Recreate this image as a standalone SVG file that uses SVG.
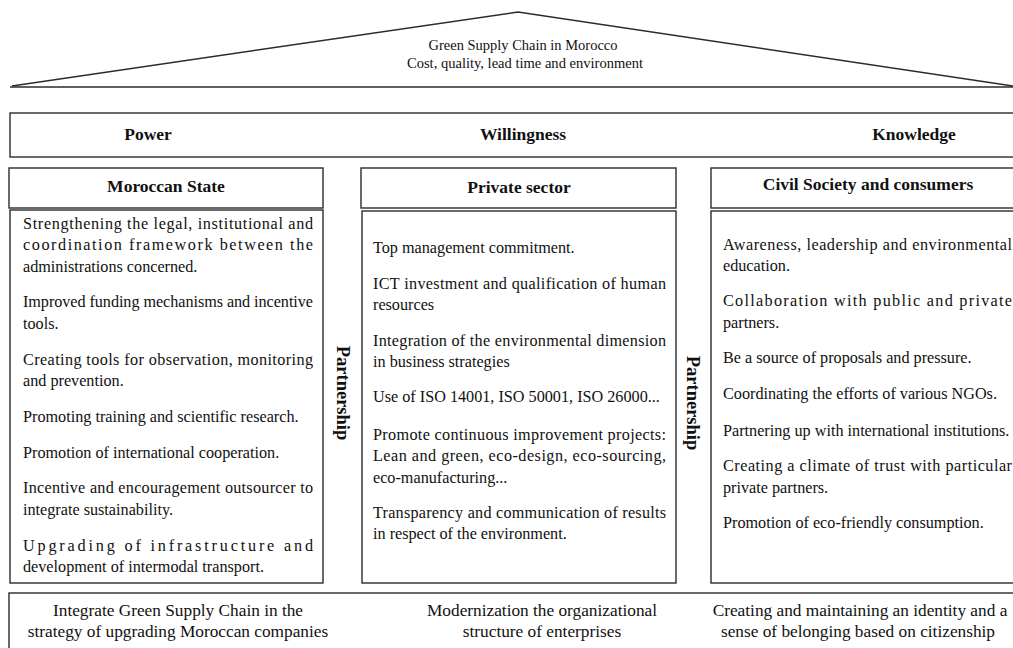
<svg xmlns="http://www.w3.org/2000/svg" width="1013" height="648" viewBox="0 0 1013 648">
<style>
.bx{fill:#fff;stroke:#2b2b2b;stroke-width:1.4}
.ln{fill:none;stroke:#2b2b2b;stroke-width:1.5}
.t{font-family:"Liberation Serif","Times New Roman",serif;font-size:16.2px;fill:#111}
.h{font-family:"Liberation Serif","Times New Roman",serif;font-size:17.5px;font-weight:bold;fill:#111;text-anchor:middle}
.r{font-family:"Liberation Serif","Times New Roman",serif;font-size:14.5px;fill:#111;text-anchor:middle}
.b{font-family:"Liberation Serif","Times New Roman",serif;font-size:17.3px;fill:#111;text-anchor:middle}
.p{font-family:"Liberation Serif","Times New Roman",serif;font-size:18.5px;font-weight:bold;fill:#111;text-anchor:middle}
</style>
<rect width="1013" height="648" fill="#fff"/>
<g id="roof">
<path class="ln" d="M12,86 L518,12 L1013,86"/>
<line class="ln" x1="10" y1="87" x2="1013" y2="87"/>
<text class="r" x="523" y="50" textLength="189" lengthAdjust="spacingAndGlyphs">Green Supply Chain in Morocco</text>
<text class="r" x="525" y="68" textLength="236" lengthAdjust="spacingAndGlyphs">Cost, quality, lead time and environment</text>
</g>
<g id="pillars-header">
<rect class="bx" x="10" y="113" width="1010" height="44"/>
<text class="h" x="148" y="140">Power</text>
<text class="h" x="523" y="140">Willingness</text>
<text class="h" x="914" y="140">Knowledge</text>
</g>
<g id="moroccan-state">
<rect class="bx" x="9" y="168" width="314" height="40"/>
<text class="h" x="166" y="192">Moroccan State</text>
<rect class="bx" x="10" y="210" width="313" height="373"/>
<text class="t" x="23" y="229" textLength="290" lengthAdjust="spacing">Strengthening the legal, institutional and</text>
<text class="t" x="23" y="250" textLength="290" lengthAdjust="spacing">coordination framework between the</text>
<text class="t" x="23" y="272">administrations concerned.</text>
<text class="t" x="23" y="307" textLength="290" lengthAdjust="spacing">Improved funding mechanisms and incentive</text>
<text class="t" x="23" y="329">tools.</text>
<text class="t" x="23" y="365" textLength="290" lengthAdjust="spacing">Creating tools for observation, monitoring</text>
<text class="t" x="23" y="386">and prevention.</text>
<text class="t" x="23" y="422">Promoting training and scientific research.</text>
<text class="t" x="23" y="458">Promotion of international cooperation.</text>
<text class="t" x="23" y="493" textLength="290" lengthAdjust="spacing">Incentive and encouragement outsourcer to</text>
<text class="t" x="23" y="515">integrate sustainability.</text>
<text class="t" x="23" y="551" textLength="290" lengthAdjust="spacing">Upgrading of infrastructure and</text>
<text class="t" x="23" y="572">development of intermodal transport.</text>
</g>
<g id="private-sector">
<rect class="bx" x="361" y="168" width="315" height="40"/>
<text class="h" x="519" y="193">Private sector</text>
<rect class="bx" x="362" y="211" width="314" height="372"/>
<text class="t" x="373" y="253">Top management commitment.</text>
<text class="t" x="373" y="289" textLength="293" lengthAdjust="spacing">ICT investment and qualification of human</text>
<text class="t" x="373" y="310">resources</text>
<text class="t" x="373" y="346" textLength="293" lengthAdjust="spacing">Integration of the environmental dimension</text>
<text class="t" x="373" y="367">in business strategies</text>
<text class="t" x="373" y="402">Use of ISO 14001, ISO 50001, ISO 26000...</text>
<text class="t" x="373" y="440" textLength="293" lengthAdjust="spacing">Promote continuous improvement projects:</text>
<text class="t" x="373" y="461" textLength="293" lengthAdjust="spacing">Lean and green, eco-design, eco-sourcing,</text>
<text class="t" x="373" y="483">eco-manufacturing...</text>
<text class="t" x="373" y="518" textLength="293" lengthAdjust="spacing">Transparency and communication of results</text>
<text class="t" x="373" y="539">in respect of the environment.</text>
</g>
<g id="civil-society">
<rect class="bx" x="711" y="168" width="310" height="40"/>
<text class="h" x="868" y="190">Civil Society and consumers</text>
<rect class="bx" x="711" y="211" width="310" height="372"/>
<text class="t" x="723" y="250" textLength="289" lengthAdjust="spacing">Awareness, leadership and environmental</text>
<text class="t" x="723" y="271">education.</text>
<text class="t" x="723" y="306" textLength="289" lengthAdjust="spacing">Collaboration with public and private</text>
<text class="t" x="723" y="328">partners.</text>
<text class="t" x="723" y="363">Be a source of proposals and pressure.</text>
<text class="t" x="723" y="399">Coordinating the efforts of various NGOs.</text>
<text class="t" x="723" y="436">Partnering up with international institutions.</text>
<text class="t" x="723" y="471" textLength="289" lengthAdjust="spacing">Creating a climate of trust with particular</text>
<text class="t" x="723" y="493">private partners.</text>
<text class="t" x="723" y="528">Promotion of eco-friendly consumption.</text>
</g>
<g id="partnership-1">
<text class="p" transform="translate(337,393) rotate(90)">Partnership</text>
</g>
<g id="partnership-2">
<text class="p" transform="translate(687,403) rotate(90)">Partnership</text>
</g>
<g id="foundation">
<rect class="bx" x="9" y="593" width="1012" height="62"/>
<text class="b" x="178" y="616">Integrate Green Supply Chain in the</text>
<text class="b" x="178" y="637">strategy of upgrading Moroccan companies</text>
<text class="b" x="542" y="616">Modernization the organizational</text>
<text class="b" x="542" y="637">structure of enterprises</text>
<text class="b" x="860" y="616">Creating and maintaining an identity and a</text>
<text class="b" x="858" y="637">sense of belonging based on citizenship</text>
</g>
<g id="connectors"></g>
</svg>
